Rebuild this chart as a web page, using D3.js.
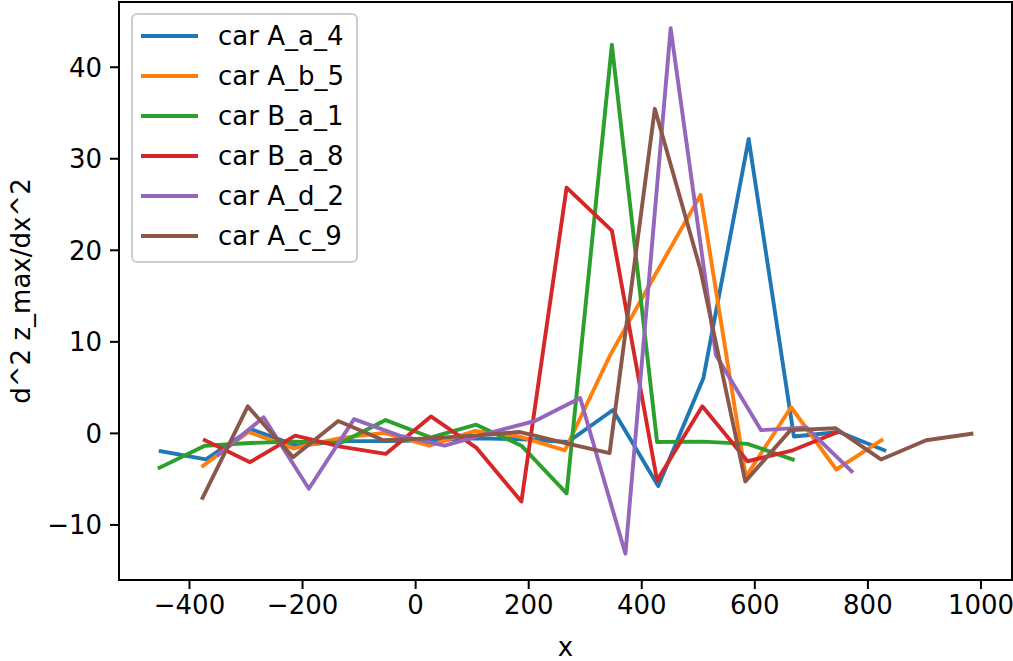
<!DOCTYPE html>
<html>
<head>
<meta charset="utf-8">
<script src="https://cdn.jsdelivr.net/npm/d3@7"></script>
<style>
  body { margin: 0; background: #fff; }
  svg { display: block; font-family: "DejaVu Sans", sans-serif; }
</style>
</head>
<body>
<div id="chart"></div>
<script>
// series names, in drawing order
const names = ["car A_a_4", "car A_b_5", "car B_a_1", "car B_a_8", "car A_d_2", "car A_c_9"];
const colors = ["#1f77b4", "#ff7f0e", "#2ca02c", "#d62728", "#9467bd", "#8c564b"];

// x positions of each series
const xA_a_4 = [-450, -370, -290, -210, -130, -50, 30, 110, 190, 270, 350, 430, 510, 590, 670, 750, 830];
const yA_a_4 = [-2.0, -2.9, 0.4, -1.4, -0.9, -0.9, -0.8, -0.6, -0.7, -1.0, 2.5, -5.8, 6.0, 32.1, -0.4, 0.1, -1.9];

const xA_b_5 = [-375, -295, -215, -135, -55, 25, 105, 185, 265, 345, 425, 505, 585, 665, 745, 825];
const yA_b_5 = [-3.6, 0.1, -1.7, -0.6, 0.0, -1.4, 0.2, -0.4, -1.9, 8.5, 17.3, 26.0, -4.8, 2.8, -4.0, -0.8];

const xB_a_1 = [-452, -372, -292, -212, -132, -52, 28, 108, 188, 268, 348, 428, 508, 588, 668];
const yB_a_1 = [-3.8, -1.4, -1.1, -0.95, -1.1, 1.4, -0.5, 0.9, -1.4, -6.6, 42.4, -1.0, -0.95, -1.2, -2.9];

const xB_a_8 = [-372, -292, -212, -132, -52, 28, 108, 188, 268, 348, 428, 508, 588, 668, 748];
const yB_a_8 = [-0.8, -3.2, -0.3, -1.5, -2.3, 1.8, -1.6, -7.5, 26.8, 22.1, -5.2, 2.9, -3.1, -1.9, 0.1];

const xA_d_2 = [-348, -268, -188, -108, -28, 52, 132, 212, 292, 372, 452, 532, 612, 692, 772];
const yA_d_2 = [-2.4, 1.7, -6.1, 1.5, -0.3, -1.4, 0.0, 1.3, 3.8, -13.2, 44.2, 8.5, 0.3, 0.6, -4.2];

const xA_c_9 = [-376, -296, -216, -136, -56, 24, 104, 184, 264, 344, 424, 504, 584, 664, 744, 824, 904, 984];
const yA_c_9 = [-7.1, 2.9, -2.65, 1.3, -0.8, -0.6, -0.3, 0.1, -1.1, -2.2, 35.4, 18.0, -5.3, 0.3, 0.5, -2.9, -0.8, -0.1];

const xTicks = [-400, -200, 0, 200, 400, 600, 800, 1000];
const yTicks = [-10, 0, 10, 20, 30, 40];

const xs = [xA_a_4, xA_b_5, xB_a_1, xB_a_8, xA_d_2, xA_c_9];
const ys = [yA_a_4, yA_b_5, yB_a_1, yB_a_8, yA_d_2, yA_c_9];
const series = names.map((name, i) => ({
  name,
  color: colors[i],
  points: xs[i].map((x, j) => ({ x, y: ys[i][j] }))
}));

const W = 1013, H = 661;
const margin = { top: 2, right: 1, bottom: 81, left: 119 };
const width = W - margin.left - margin.right,
  height = H - margin.top - margin.bottom;

const svg = d3.select("#chart").append("svg")
  .attr("width", W)
  .attr("height", H);

const g = svg.append("g")
  .attr("transform", `translate(${margin.left},${margin.top})`);

// matplotlib-like 5% margins around the data
const allX = xs.flat(), allY = ys.flat();
const [x0, x1] = d3.extent(allX);
const [y0, y1] = d3.extent(allY);
const px = (x1 - x0) * 0.05, py = (y1 - y0) * 0.05;

const x = d3.scaleLinear().domain([x0 - px, x1 + px]).range([0, width]);
const y = d3.scaleLinear().domain([y0 - py, y1 + py]).range([height, 0]);

const line = d3.line().x(d => x(d.x)).y(d => y(d.y));

g.append("g")
  .selectAll("path")
  .data(series)
  .join("path")
  .attr("fill", "none")
  .attr("stroke", d => d.color)
  .attr("stroke-width", 3.9)
  .attr("stroke-linejoin", "round")
  .attr("stroke-linecap", "square")
  .attr("d", d => line(d.points));

// axes
const fontSize = 26;
const fmt = d3.format("d");
const xAxis = g.append("g")
  .attr("transform", `translate(0,${height})`)
  .call(d3.axisBottom(x).tickValues(xTicks).tickFormat(fmt).tickSize(9).tickPadding(7));
const yAxis = g.append("g")
  .call(d3.axisLeft(y).tickValues(yTicks).tickFormat(fmt).tickSize(9).tickPadding(8));

[xAxis, yAxis].forEach(a => {
  a.select(".domain").remove();
  a.selectAll(".tick line").attr("stroke", "#000").attr("stroke-width", 2);
  a.selectAll(".tick text")
    .attr("fill", "#000")
    .style("font-family", "DejaVu Sans")
    .style("font-size", fontSize + "px");
});
yAxis.selectAll(".tick text").attr("dy", "0.36em");

// spines
g.append("rect")
  .attr("width", width)
  .attr("height", height)
  .attr("fill", "none")
  .attr("stroke", "#000")
  .attr("stroke-width", 2);

// axis labels
svg.append("text")
  .attr("x", margin.left + width / 2)
  .attr("y", 656)
  .attr("text-anchor", "middle")
  .style("font-size", fontSize + "px")
  .text("x");

svg.append("text")
  .attr("transform", `translate(30,${margin.top + height / 2}) rotate(-90)`)
  .attr("text-anchor", "middle")
  .style("font-size", fontSize + "px")
  .text("d^2 z_max/dx^2");

// legend
const legend = svg.append("g").attr("transform", "translate(132,14)");
legend.append("rect")
  .attr("width", 225)
  .attr("height", 248)
  .attr("rx", 5)
  .attr("fill", "#fff")
  .attr("fill-opacity", 0.8)
  .attr("stroke", "#cccccc")
  .attr("stroke-width", 2);

const rows = legend.selectAll("g.row")
  .data(series)
  .join("g")
  .attr("class", "row")
  .attr("transform", (d, i) => `translate(0,${22 + i * 40})`);

rows.append("line")
  .attr("x1", 9)
  .attr("x2", 66)
  .attr("stroke", d => d.color)
  .attr("stroke-width", 3.9);

rows.append("text")
  .attr("x", 86)
  .attr("y", 9)
  .style("font-size", fontSize + "px")
  .text(d => d.name);
</script>
</body>
</html>
